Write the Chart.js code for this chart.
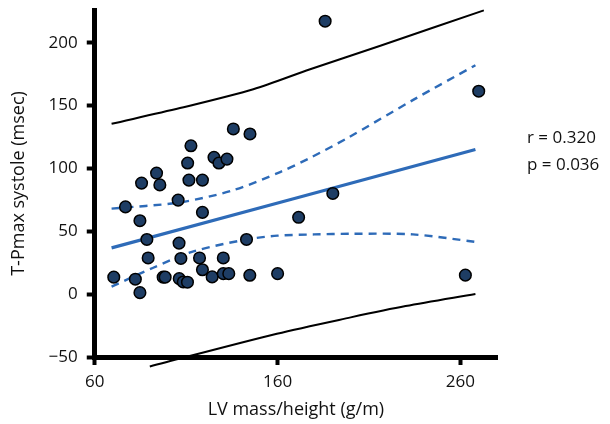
<!DOCTYPE html>
<html>
<head>
<meta charset="utf-8">
<script src="https://cdn.jsdelivr.net/npm/chart.js@4"></script>
<style>
  html, body { margin: 0; padding: 0; background: #fff; }
  #wrap { width: 610px; height: 424px; }
</style>
</head>
<body>
<div id="wrap"><canvas id="chartLV" width="610" height="424"></canvas></div>
<script>
// valores
const lvMass = [70.4, 76.8, 82.2, 84.7, 84.7, 85.6, 88.5, 89.2, 93.8, 95.6,
                97.4, 98.5, 105.6, 106.1, 106.2, 107.1, 108.4, 110.7, 110.8, 111.5,
                112.6, 117.3, 118.9, 118.9, 118.9, 124.2, 125.2, 127.9, 130.3, 130.3,
                132.3, 133.3, 135.8, 143.0, 144.9, 144.8, 160.0, 171.5, 186.0, 190.2,
                262.7, 270.0];
const tPmax = [13.5, 69.4, 11.9, 1.2, 58.4, 88.3, 43.5, 28.8, 96.3, 86.9,
               13.5, 13.5, 74.8, 40.6, 12.3, 28.4, 9.7, 9.5, 104.3, 90.7,
               118.0, 28.8, 19.4, 90.7, 65.0, 13.7, 108.8, 104.3, 28.8, 16.3,
               107.4, 16.3, 131.4, 43.5, 127.4, 15.0, 16.3, 61.1, 217.1, 80.1,
               15.1, 161.4];

// reta de regressão
const fitX = [69.2, 268.2];
const fitY = [36.8, 115.0];

// IC 95% (tracejado)
const ciUpX = [69.2, 106.6, 135.6, 161.4, 177.8, 197.9, 234.4, 268.2];
const ciUpY = [68.0, 73.0, 82.6, 97.1, 108.4, 123.9, 154.7, 182.1];
const ciLoX = [69.2, 92, 114, 143, 160, 180, 200, 234, 268.2];
const ciLoY = [6, 21, 34, 43.5, 46.5, 47.5, 48, 47.5, 41.6];

// intervalo de predição (preto)
const piUpX = [69.2, 106.6, 146.7, 177.8, 216.2, 272.8];
const piUpY = [135.5, 148.0, 163.0, 178.9, 197.6, 225.7];
const piLoX = [90.1, 159.6, 200, 230, 268.2];
const piLoY = [-57.5, -31.5, -18.5, -9.5, 0.1];

const xTicks = [60, 160, 260];
const yTicks = [-50, 0, 50, 100, 150, 200];
const statsText = ['r = 0.320', 'p = 0.036'];

const toPts = (xs, ys) => xs.map((x, i) => ({ x: x, y: ys[i] }));

const FONT = "'Open Sans', 'DejaVu Sans', sans-serif";
const BLUE = '#2e6bb8';

const statsPlugin = {
    id: 'statsText',
    afterDraw(chart) {
        const c = chart.ctx;
        c.save();
        c.font = '17px ' + FONT;
        c.fillStyle = '#111';
        c.textBaseline = 'middle';
        c.textAlign = 'left';
        c.fillText(statsText[0], 527, 138);
        c.fillText(statsText[1], 527, 165);
        c.restore();
    }
};

function lineSet(xs, ys, color, width, dash) {
    return {
        type: 'scatter',
        data: toPts(xs, ys),
        showLine: true,
        borderColor: color,
        borderWidth: width,
        borderDash: dash || [],
        pointRadius: 0,
        fill: false,
        tension: 0.3,
        clip: false,
        order: 1
    };
}

new Chart(document.getElementById('chartLV'), {
    type: 'scatter',
    data: {
        datasets: [
            {
                data: toPts(lvMass, tPmax),
                backgroundColor: '#1e3d64',
                borderColor: '#000',
                borderWidth: 1.5,
                pointRadius: 5.8,
                order: 0
            },
            lineSet(fitX, fitY, BLUE, 3.2),
            lineSet(ciUpX, ciUpY, BLUE, 2.4, [8, 6]),
            lineSet(ciLoX, ciLoY, BLUE, 2.4, [8, 6]),
            lineSet(piUpX, piUpY, '#000', 2),
            lineSet(piLoX, piLoY, '#000', 2)
        ]
    },
    options: {
        responsive: false,
        animation: false,
        layout: { padding: { top: 10, right: 113, left: 8, bottom: 3 } },
        plugins: {
            legend: { display: false },
            tooltip: { enabled: false }
        },
        scales: {
            x: {
                type: 'linear',
                min: 60,
                max: 280,
                afterBuildTicks: axis => { axis.ticks = xTicks.map(v => ({ value: v })); },
                border: { display: true, color: '#000', width: 5 },
                grid: { drawOnChartArea: false, drawTicks: true, tickLength: 8, tickWidth: 4, tickColor: '#000' },
                ticks: { color: '#111', padding: 7, font: { family: FONT, size: 17 } },
                title: {
                    display: true,
                    text: 'LV mass/height (g/m)',
                    color: '#111',
                    padding: { top: 0, bottom: 0 },
                    font: { family: FONT, size: 18 }
                }
            },
            y: {
                type: 'linear',
                min: -50,
                max: 226,
                afterBuildTicks: axis => { axis.ticks = yTicks.map(v => ({ value: v })); },
                afterFit: s => { s.paddingTop = 0; s.paddingBottom = 0; },
                border: { display: true, color: '#000', width: 5 },
                grid: { drawOnChartArea: false, drawTicks: true, tickLength: 8, tickWidth: 4, tickColor: '#000' },
                ticks: {
                    color: '#111',
                    padding: 9,
                    font: { family: FONT, size: 17 },
                    callback: v => (v < 0 ? '\u2212' + Math.abs(v) : String(v))
                },
                title: {
                    display: true,
                    text: 'T-Pmax systole (msec)',
                    color: '#111',
                    padding: { top: 0, bottom: 10 },
                    font: { family: FONT, size: 18 }
                }
            }
        }
    },
    plugins: [statsPlugin]
});
</script>
</body>
</html>
